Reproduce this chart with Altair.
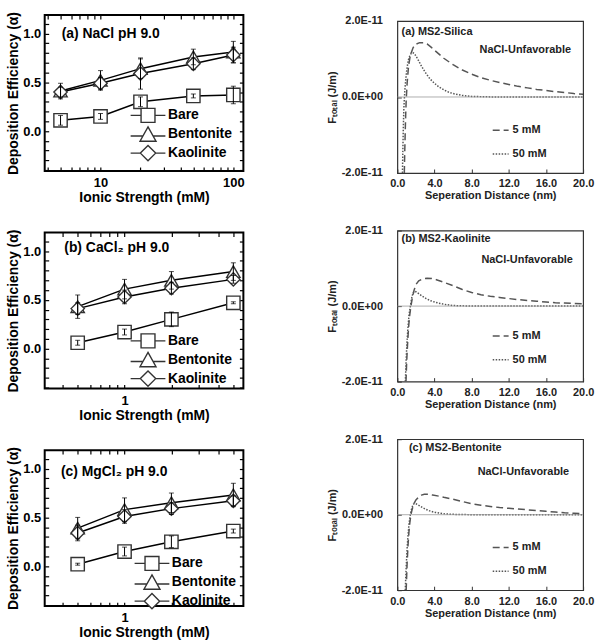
import altair as alt
import pandas as pd

FONT = "Liberation Sans"

# ---------------- left column: deposition efficiency ----------------
SURFACES = ["Bare", "Bentonite", "Kaolinite"]
MARKER_SHAPES = ["square", "triangle-up", "diamond"]
LEGEND_SHAPES = [
    "M-2.5,0H-1M1,0H2.5M-1,-1H1V1H-1Z",
    "M-2.5,0.25H-0.72M0.72,0.25H2.5M0,-1.05L1.15,1H-1.15Z",
    "M-2.5,0H-1.1M1.1,0H2.5M0,-1.1L1.1,0L0,1.1L-1.1,0Z",
]

NACL_IS = [5, 10, 20, 50, 100]
NACL_BARE = [0.11, 0.15, 0.30, 0.36, 0.37]
NACL_BARE_ERR = [0.05, 0.03, 0.05, 0.02, 0.09]
NACL_BENT = [0.41, 0.52, 0.64, 0.76, 0.81]
NACL_BENT_ERR = [0.08, 0.10, 0.10, 0.08, 0.11]
NACL_KAOL = [0.40, 0.49, 0.59, 0.69, 0.78]
NACL_KAOL_ERR = [0.05, 0.06, 0.16, 0.06, 0.08]

CACL_IS = [0.5, 1, 2, 5]
CACL_BARE = [0.06, 0.17, 0.30, 0.47]
CACL_BARE_ERR = [0.025, 0.03, 0.075, 0.01]
CACL_BENT = [0.43, 0.61, 0.70, 0.79]
CACL_BENT_ERR = [0.12, 0.10, 0.09, 0.09]
CACL_KAOL = [0.41, 0.53, 0.62, 0.71]
CACL_KAOL_ERR = [0.06, 0.07, 0.06, 0.04]

MGCL_IS = [0.5, 1, 2, 5]
MGCL_BARE = [0.02, 0.15, 0.25, 0.36]
MGCL_BARE_ERR = [0.01, 0.045, 0.06, 0.02]
MGCL_BENT = [0.39, 0.58, 0.65, 0.73]
MGCL_BENT_ERR = [0.11, 0.12, 0.10, 0.12]
MGCL_KAOL = [0.34, 0.51, 0.59, 0.67]
MGCL_KAOL_ERR = [0.08, 0.07, 0.06, 0.05]

LEFT_LABELS = ["(a) NaCl pH 9.0", "(b) CaCl\u2082 pH 9.0", "(c) MgCl\u2082 pH 9.0"]

# ---------------- right column: DLVO force profiles (units of 1E-11 J/m) ----------------
CONCS = ["5 mM", "50 mM"]

SIL_5_X = [0.75, 0.80, 0.85, 0.90, 0.95, 1.05, 1.2, 1.4, 1.7, 2.0, 2.4, 2.8, 3.2, 3.6, 4.0, 5.0, 6.0,
           7.0, 8.0, 9.0, 10.0, 11.0, 12.0, 13.0, 14.0, 15.0, 16.0, 17.0, 18.0, 19.0, 20.0]
SIL_5_Y = [-2.0, -1.4, -0.9, -0.45, -0.1, 0.35, 0.8, 1.1, 1.3, 1.39, 1.43, 1.43, 1.40, 1.32, 1.23, 1.02,
           0.85, 0.71, 0.60, 0.51, 0.44, 0.38, 0.33, 0.28, 0.24, 0.20, 0.17, 0.14, 0.12, 0.09, 0.07]
SIL_50_X = [0.55, 0.6, 0.65, 0.7, 0.8, 0.9, 1.0, 1.1, 1.2, 1.35, 1.5, 1.65, 1.8, 2.0, 2.3, 2.6, 3.0,
            3.5, 4.0, 4.5, 5.0, 5.5, 6.0, 7.0, 8.0, 10.0, 14.0, 20.0]
SIL_50_Y = [-2.0, -1.3, -0.75, -0.3, 0.15, 0.45, 0.68, 0.85, 0.98, 1.09, 1.15, 1.17, 1.15, 1.08, 0.95,
            0.81, 0.65, 0.48, 0.36, 0.26, 0.19, 0.13, 0.09, 0.04, 0.015, 0.003, 0.0, 0.0]

KAO_5_X = [0.93, 1.0, 1.1, 1.2, 1.3, 1.46, 1.6, 1.8, 2.0, 2.3, 2.7, 3.2, 3.7, 4.2, 5, 6, 7, 8, 9, 10,
           11, 12, 13, 14, 15, 16, 17, 18, 19, 20]
KAO_5_Y = [-2.0, -1.5, -1.0, -0.6, -0.3, 0.0, 0.2, 0.42, 0.57, 0.67, 0.72, 0.74, 0.73, 0.70, 0.63,
           0.54, 0.44, 0.36, 0.30, 0.26, 0.23, 0.20, 0.17, 0.15, 0.13, 0.11, 0.09, 0.08, 0.07, 0.06]
KAO_50_X = [0.86, 0.95, 1.05, 1.15, 1.25, 1.4, 1.55, 1.7, 1.85, 2.0, 2.3, 2.7, 3.1, 3.6, 4.1, 4.6,
            5.2, 6.0, 8.0, 12.0, 20.0]
KAO_50_Y = [-2.0, -1.4, -0.9, -0.55, -0.25, 0.0, 0.22, 0.36, 0.40, 0.38, 0.33, 0.26, 0.20, 0.14,
            0.10, 0.07, 0.04, 0.015, 0.0, 0.0, 0.0]

BEN_5_X = [0.95, 1.05, 1.15, 1.25, 1.35, 1.46, 1.6, 1.8, 2.0, 2.3, 2.6, 2.9, 3.3, 3.8, 4.5, 5, 6, 7,
           8, 9, 10, 11, 12, 13, 14, 15, 16, 17, 18, 19, 20]
BEN_5_Y = [-2.0, -1.3, -0.8, -0.45, -0.2, 0.0, 0.15, 0.30, 0.39, 0.47, 0.52, 0.54, 0.54, 0.52, 0.49,
           0.46, 0.41, 0.35, 0.29, 0.25, 0.22, 0.19, 0.17, 0.15, 0.13, 0.11, 0.09, 0.07, 0.05, 0.04, 0.03]
BEN_50_X = [0.85, 0.95, 1.05, 1.15, 1.25, 1.4, 1.55, 1.7, 1.85, 2.0, 2.3, 2.7, 3.1, 3.6, 4.1, 4.6,
            5.2, 6.0, 8.0, 12.0, 20.0]
BEN_50_Y = [-2.0, -1.4, -0.9, -0.55, -0.25, 0.0, 0.17, 0.27, 0.30, 0.29, 0.25, 0.19, 0.14, 0.09,
            0.06, 0.04, 0.02, 0.01, 0.0, 0.0, 0.0]

RIGHT_LABELS = ["(a) MS2-Silica", "(b) MS2-Kaolinite", "(c) MS2-Bentonite"]
CONDITION_LABEL = ["NaCl-Unfavorable"]
ZERO = [0.0]

Y_TICKS_LEFT = [-0.4, -0.3, -0.2, -0.1, 0, 0.1, 0.2, 0.3, 0.4, 0.5, 0.6, 0.7, 0.8, 0.9, 1, 1.1]
X_TICKS_NACL = [4, 5, 6, 7, 8, 9, 10, 20, 30, 40, 50, 60, 70, 80, 90, 100]
X_TICKS_SMALL = [0.4, 0.5, 0.6, 0.7, 0.8, 0.9, 1, 2, 3, 4, 5]
X_TICKS_RIGHT = [0, 4, 8, 12, 16, 20]
Y_TICKS_RIGHT = [-2, 0, 2]


def any_of(values):
    return " || ".join("datum.value == %s" % v for v in values)


def left_panel(xs, vals, errs, xdomain, xticks, xmajor, label, label_x, label_y, leg_x, leg_y):
    rows = []
    for s, v_list, e_list in zip(SURFACES, vals, errs):
        for x, v, e in zip(xs, v_list, e_list):
            rows.append({"is": x, "alpha": v, "err": e, "surface": s})
    df = pd.DataFrame(rows)
    base = alt.Chart(df).transform_calculate(lo="datum.alpha - datum.err", hi="datum.alpha + datum.err")
    xsc = alt.Scale(type="log", domain=xdomain, nice=False)
    ysc = alt.Scale(domain=[-0.41, 1.19], nice=False, zero=False)
    xlab = "(%s) ? format(datum.value, 'd') : ''" % any_of(xmajor)
    ylab = "(%s) ? format(datum.value, '.1f') : ''" % any_of([0, 0.5, 1])
    common = dict(tickSize={"expr": "-4"}, tickColor="black", tickWidth=1.2, domain=False, grid=False,
                  labelOverlap=False, labelFlush=False)
    txt_style = dict(labelFont=FONT, labelFontSize=13, labelFontWeight="bold", labelColor="black",
                     titleFont=FONT, titleFontSize=14, titleFontWeight="bold", titleColor="black")

    lines = base.mark_line(color="black", strokeWidth=1.5).encode(
        x=alt.X("is:Q", scale=xsc, axis=alt.Axis(orient="bottom", values=xticks, labelExpr=xlab,
                                                 title="Ionic Strength (mM)", labelPadding=10,
                                                 titlePadding=1, **common, **txt_style)),
        y=alt.Y("alpha:Q", scale=ysc, axis=alt.Axis(orient="left", values=Y_TICKS_LEFT, labelExpr=ylab,
                                                    title="Deposition Efficiency (\u03b1)", labelPadding=8,
                                                    titlePadding=2, **common, **txt_style)),
        detail="surface:N",
    )
    pts = base.mark_point(filled=True, fill="white", stroke="#333", strokeWidth=1.4, size=180,
                          opacity=1).encode(
        x=alt.X("is:Q", scale=xsc, axis=alt.Axis(orient="top", values=xticks, labels=False, title=None,
                                                 **common)),
        y=alt.Y("alpha:Q", scale=ysc, axis=alt.Axis(orient="right", values=Y_TICKS_LEFT, labels=False,
                                                    title=None, **common)),
        shape=alt.Shape("surface:N", scale=alt.Scale(domain=SURFACES, range=MARKER_SHAPES), legend=None),
    )
    eb = base.mark_errorbar(ticks=True, color="black", thickness=1).encode(
        x=alt.X("is:Q", scale=xsc, axis=None),
        y=alt.Y("lo:Q", scale=ysc, axis=None),
        y2="hi:Q",
    )
    leg = base.transform_filter("false").mark_point(filled=False, fill="white", stroke="#333",
                                                    strokeWidth=1.4, opacity=1).encode(
        x=alt.X("is:Q", scale=xsc, axis=None),
        y=alt.Y("alpha:Q", scale=ysc, axis=None),
        shape=alt.Shape("surface:N", scale=alt.Scale(domain=SURFACES, range=LEGEND_SHAPES),
                        legend=alt.Legend(title=None, orient="none", legendX=leg_x, legendY=leg_y,
                                          symbolSize=196, symbolStrokeWidth=1.4, symbolOpacity=1,
                                          labelFont=FONT, labelFontSize=14, labelFontWeight="bold",
                                          labelColor="black", labelOffset=12, rowPadding={"expr": "-2"},
                                          padding=0)),
    )
    txt = alt.Chart(pd.DataFrame({"t": [label]})).mark_text(
        align="left", baseline="middle", font=FONT, fontSize=14, fontWeight="bold", color="black"
    ).encode(
        x=alt.XDatum(label_x, scale=xsc, axis=None),
        y=alt.YDatum(label_y, scale=ysc, axis=None),
        text="t:N",
    )
    return alt.layer(lines, pts, eb, leg, txt).resolve_scale(shape="independent").resolve_legend(
        shape="independent").properties(
        width=200, height=157, view=alt.ViewBackground(stroke="black", strokeWidth=2)
    )


def right_panel(x5, y5, x50, y50, label, label_xy, cond_xy, leg_xy, height):
    rows = [{"d": x, "f": y, "conc": CONCS[0]} for x, y in zip(x5, y5)]
    rows += [{"d": x, "f": y, "conc": CONCS[1]} for x, y in zip(x50, y50)]
    df = pd.DataFrame(rows)
    xsc = alt.Scale(domain=[0, 20], nice=False)
    ysc = alt.Scale(domain=[-2, 2], nice=False)
    common = dict(tickSize={"expr": "-4"}, tickColor="#333", tickWidth=1, domain=False, grid=False,
                  labelOverlap=False, labelFlush=False,
                  labelFont=FONT, labelFontSize=11, labelFontWeight="bold", labelColor="#222",
                  titleFont=FONT, titleFontSize=11, titleFontWeight="bold", titleColor="#222")
    hidden = dict(ticks=True, tickSize={"expr": "-3"}, tickOpacity=0, labels=False, domain=False,
                  grid=False, title=None)
    ylab = "datum.value == 2 ? '2.0E-11' : (datum.value == 0 ? '0.0E+00' : '-2.0E-11')"

    lines = alt.Chart(df).mark_line(clip=True, color="#555", strokeWidth=1.5).encode(
        x=alt.X("d:Q", scale=xsc, axis=alt.Axis(orient="bottom", values=X_TICKS_RIGHT, format=".1f",
                                                title="Seperation Distance (nm)", labelPadding=9,
                                                titlePadding=1, **common)),
        y=alt.Y("f:Q", scale=ysc, axis=alt.Axis(orient="left", values=Y_TICKS_RIGHT, labelExpr=ylab,
                                                title="F\u209c\u2092\u209c\u2090\u2097 (J/m)", labelPadding=19,
                                                titlePadding=4, **common)),
        strokeDash=alt.StrokeDash("conc:N", scale=alt.Scale(domain=CONCS, range=[[7, 4], [1.5, 1.5]]),
                                  legend=alt.Legend(title=None, orient="none", legendX=leg_xy[0],
                                                    legendY=leg_xy[1], symbolType="stroke", symbolSize=256,
                                                    symbolStrokeWidth=1.5, symbolStrokeColor="#555",
                                                    labelFont=FONT, labelFontSize=11, labelFontWeight="bold",
                                                    labelColor="#222", labelOffset=3, rowPadding=10,
                                                    padding=0)),
    )
    # mirrored (invisible) top / right axes
    mirror = alt.Chart(df).mark_line(opacity=0).encode(
        x=alt.X("d:Q", scale=xsc, axis=alt.Axis(orient="top", values=X_TICKS_RIGHT, **hidden)),
        y=alt.Y("f:Q", scale=ysc, axis=alt.Axis(orient="right", values=Y_TICKS_RIGHT, **hidden)),
        detail="conc:N",
    )
    zero = alt.Chart(pd.DataFrame({"z": ZERO})).mark_rule(color="#999", strokeWidth=0.8).encode(
        y=alt.Y("z:Q", scale=ysc, axis=None))
    t1 = alt.Chart(pd.DataFrame({"t": [label]})).mark_text(
        align="left", baseline="middle", font=FONT, fontSize=11, fontWeight="bold", color="#222"
    ).encode(x=alt.XDatum(label_xy[0], scale=xsc, axis=None), y=alt.YDatum(label_xy[1], scale=ysc, axis=None),
             text="t:N")
    t2 = alt.Chart(pd.DataFrame({"t": CONDITION_LABEL})).mark_text(
        align="right", baseline="middle", font=FONT, fontSize=11, fontWeight="bold", color="#222"
    ).encode(x=alt.XDatum(cond_xy[0], scale=xsc, axis=None), y=alt.YDatum(cond_xy[1], scale=ysc, axis=None),
             text="t:N")
    return alt.layer(lines, mirror, zero, t1, t2).properties(
        width=187, height=height, view=alt.ViewBackground(stroke="#333", strokeWidth=1.2)
    )


pa = left_panel(NACL_IS, [NACL_BARE, NACL_BENT, NACL_KAOL], [NACL_BARE_ERR, NACL_BENT_ERR, NACL_KAOL_ERR],
                [3.8, 119], X_TICKS_NACL, [10, 100], LEFT_LABELS[0], 5.1, 1.0, 96, 93)
pb = left_panel(CACL_IS, [CACL_BARE, CACL_BENT, CACL_KAOL], [CACL_BARE_ERR, CACL_BENT_ERR, CACL_KAOL_ERR],
                [0.307, 5.8], X_TICKS_SMALL, [1], LEFT_LABELS[1], 0.41, 1.03, 96, 101)
pc = left_panel(MGCL_IS, [MGCL_BARE, MGCL_BENT, MGCL_KAOL], [MGCL_BARE_ERR, MGCL_BENT_ERR, MGCL_KAOL_ERR],
                [0.307, 5.8], X_TICKS_SMALL, [1], LEFT_LABELS[2], 0.39, 0.97, 100, 106)

ra = right_panel(SIL_5_X, SIL_5_Y, SIL_50_X, SIL_50_Y, RIGHT_LABELS[0], (0.45, 1.71), (18.7, 1.24),
                 (95, 101), 153)
rb = right_panel(KAO_5_X, KAO_5_Y, KAO_50_X, KAO_50_Y, RIGHT_LABELS[1], (0.45, 1.79), (18.9, 1.22),
                 (95, 97), 152)
rc = right_panel(BEN_5_X, BEN_5_Y, BEN_50_X, BEN_50_Y, RIGHT_LABELS[2], (1.25, 1.77), (18.5, 1.14),
                 (95, 100), 152)

# a 1-px empty spacer that lowers the right column slightly relative to the left one
spacer = alt.Chart(pd.DataFrame({"z": ZERO})).transform_filter("false").mark_point(opacity=0).properties(
    width=1, height=1, view=alt.ViewBackground(stroke=None))

INDEP = dict(shape="independent", strokeDash="independent")

left_col = alt.vconcat(pa, pb, pc, spacing=62, bounds="flush").resolve_scale(**INDEP).resolve_legend(**INDEP)
right_inner = alt.vconcat(ra, rb, rc, spacing=58, bounds="flush").resolve_scale(**INDEP).resolve_legend(**INDEP)
right_col = alt.vconcat(spacer, right_inner, spacing=5, bounds="flush").resolve_scale(**INDEP).resolve_legend(
    **INDEP)

chart = alt.hconcat(left_col, right_col, spacing=80).resolve_scale(**INDEP).resolve_legend(**INDEP).properties(
    padding={"left": 5, "top": 8, "right": 5, "bottom": 0}, background="white"
).configure(font=FONT).configure_view(stroke=None)

chart.save("out.html", embed_options={"renderer": "svg", "actions": False})
